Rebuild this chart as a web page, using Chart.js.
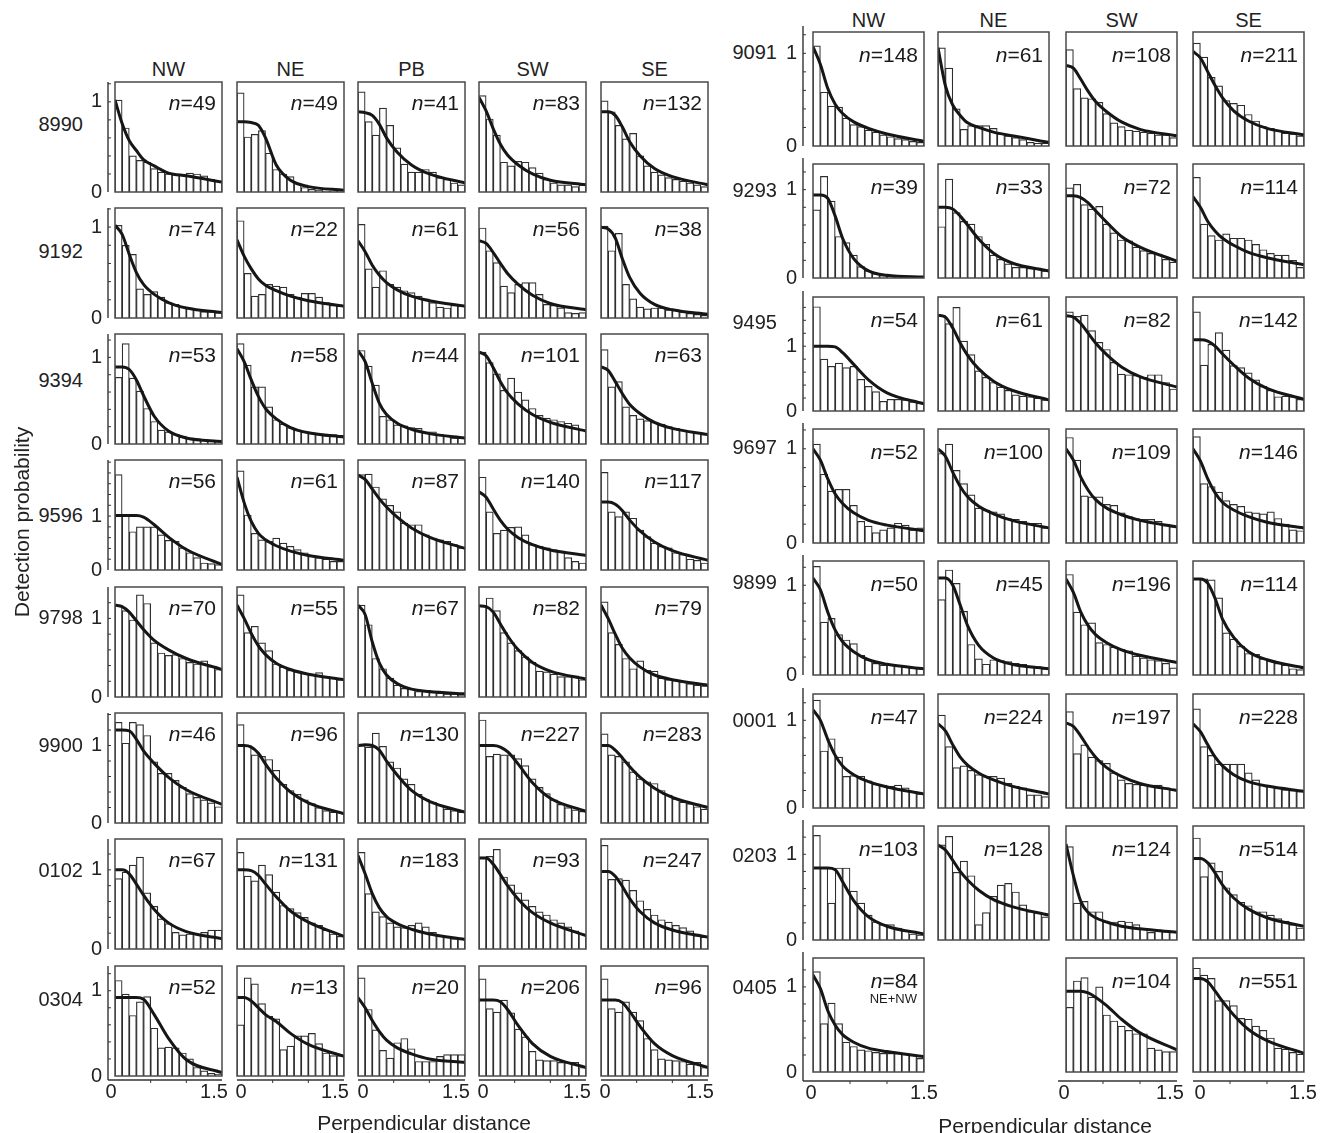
<!DOCTYPE html>
<html>
<head>
<meta charset="utf-8">
<script src="https://cdn.jsdelivr.net/npm/chart.js@4.4.1/dist/chart.umd.min.js"></script>
<style>
  body { margin: 0; background: #fff; }
  #page { position: relative; width: 1335px; height: 1133px; overflow: hidden;
          font-family: "Liberation Sans", Arial, sans-serif; color: #222; }
  #page canvas { position: absolute; }
  .lbl { position: absolute; white-space: nowrap; line-height: 1; font-size: 20px; }
</style>
</head>
<body>
<div id="page"></div>
<script>
// histogram bins (centres, km) and distances where the fitted curve was read
const binCentres = [0.05, 0.15, 0.25, 0.35, 0.45, 0.55, 0.65, 0.75, 0.85, 0.95, 1.05, 1.15, 1.25, 1.35, 1.45];
const fitDistances = [0, 0.1, 0.2, 0.3, 0.4, 0.55, 0.75, 1.0, 1.5];
const xTickValues = [0, 1.5];
const xTickLabels = ['0', '1.5'];
const xMinorTicks = [0.5, 1.0];
const yTickValues = [0, 1];
const yTickLabels = ['0', '1'];
const yMinorTicks = [0.2, 0.4, 0.6, 0.8, 1.0, 1.2, 1.4, 1.6, 1.8, 2.0];

const leftSites = ['NW', 'NE', 'PB', 'SW', 'SE'];
const leftSeasons = ['8990', '9192', '9394', '9596', '9798', '9900', '0102', '0304'];
const leftYMax = [1.22, 1.21, 1.27, 2.04, 1.40, 1.42, 1.39, 1.29];

const rightSites = ['NW', 'NE', 'SW', 'SE'];
const rightSeasons = ['9091', '9293', '9495', '9697', '9899', '0001', '0203', '0405'];
const rightYMax = [1.23, 1.29, 1.76, 1.21, 1.27, 1.30, 1.33, 1.34];

// ---- left block: NW, NE, PB, SW, SE ----
const counts8990 = [49, 49, 41, 83, 132];
const hist8990 = [
  [1.02,0.71,0.40,0.35,0.33,0.26,0.22,0.20,0.20,0.20,0.21,0.20,0.18,0.14,0.12],
  [1.10,0.61,0.64,0.68,0.43,0.25,0.20,0.17,0.10,0.05,0.03,0.02,0.01,0.01,0.01],
  [1.11,0.78,0.63,0.93,0.74,0.49,0.31,0.22,0.22,0.25,0.22,0.16,0.14,0.10,0.08],
  [1.07,0.81,0.63,0.33,0.29,0.34,0.33,0.27,0.21,0.14,0.10,0.08,0.08,0.06,0.08],
  [1.01,0.89,0.74,0.59,0.65,0.40,0.29,0.22,0.19,0.16,0.14,0.12,0.10,0.08,0.06]];
const fit8990 = [
  [1.02,0.76,0.57,0.46,0.36,0.29,0.21,0.18,0.11],
  [0.78,0.78,0.77,0.74,0.60,0.30,0.13,0.06,0.02],
  [0.89,0.88,0.85,0.75,0.60,0.44,0.30,0.20,0.10],
  [1.05,0.90,0.70,0.53,0.41,0.30,0.20,0.13,0.08],
  [0.89,0.89,0.85,0.72,0.56,0.40,0.26,0.17,0.08]];

const counts9192 = [74, 22, 61, 56, 38];
const hist9192 = [
  [1.02,0.80,0.70,0.32,0.26,0.29,0.23,0.17,0.15,0.12,0.11,0.09,0.07,0.07,0.06],
  [1.07,0.49,0.24,0.26,0.37,0.35,0.34,0.26,0.23,0.27,0.27,0.23,0.17,0.14,0.13],
  [1.03,0.54,0.34,0.52,0.37,0.34,0.30,0.28,0.24,0.21,0.17,0.12,0.11,0.14,0.14],
  [0.99,0.74,0.61,0.35,0.28,0.37,0.39,0.39,0.26,0.15,0.14,0.11,0.06,0.05,0.06],
  [1.01,0.74,0.93,0.37,0.21,0.12,0.10,0.11,0.11,0.09,0.09,0.07,0.05,0.04,0.03]];
const fit9192 = [
  [1.02,0.92,0.70,0.50,0.37,0.26,0.17,0.11,0.06],
  [0.86,0.68,0.54,0.43,0.36,0.30,0.24,0.19,0.13],
  [0.85,0.73,0.58,0.47,0.39,0.31,0.24,0.19,0.13],
  [0.85,0.82,0.72,0.60,0.49,0.37,0.25,0.16,0.09],
  [1.00,0.98,0.88,0.65,0.45,0.27,0.15,0.09,0.04]];

const counts9394 = [53, 58, 44, 101, 63];
const hist9394 = [
  [0.77,1.16,0.76,0.61,0.41,0.26,0.16,0.14,0.11,0.09,0.07,0.06,0.05,0.04,0.03],
  [1.16,0.91,0.66,0.66,0.43,0.28,0.23,0.19,0.16,0.14,0.13,0.11,0.11,0.11,0.10],
  [1.08,0.90,0.68,0.32,0.28,0.22,0.21,0.19,0.18,0.14,0.14,0.11,0.09,0.07,0.07],
  [1.06,0.94,0.81,0.62,0.76,0.60,0.51,0.41,0.33,0.30,0.28,0.26,0.24,0.22,0.16],
  [1.09,0.66,0.72,0.43,0.33,0.29,0.27,0.25,0.23,0.20,0.18,0.16,0.15,0.13,0.11]];
const fit9394 = [
  [0.89,0.89,0.86,0.74,0.56,0.32,0.15,0.07,0.03],
  [1.10,0.95,0.74,0.55,0.41,0.29,0.19,0.13,0.08],
  [1.08,0.95,0.70,0.47,0.34,0.24,0.17,0.12,0.07],
  [1.06,1.02,0.88,0.72,0.59,0.46,0.34,0.25,0.15],
  [0.89,0.85,0.72,0.58,0.46,0.35,0.25,0.18,0.11]];

const counts9596 = [56, 61, 87, 140, 117];
const hist9596 = [
  [1.77,1.02,0.71,0.80,0.80,0.80,0.65,0.55,0.53,0.41,0.32,0.23,0.13,0.12,0.10],
  [1.84,1.02,0.68,0.56,0.53,0.59,0.50,0.44,0.38,0.32,0.27,0.23,0.20,0.16,0.16],
  [1.77,1.78,1.54,1.32,1.20,1.08,0.87,0.84,0.84,0.65,0.59,0.56,0.53,0.47,0.41],
  [1.72,1.08,0.68,0.74,0.79,0.80,0.65,0.47,0.44,0.41,0.38,0.35,0.23,0.16,0.13],
  [1.81,1.08,0.99,1.08,0.96,0.74,0.62,0.50,0.44,0.41,0.32,0.29,0.20,0.18,0.13]];
const fit9596 = [
  [1.01,1.01,1.01,1.01,0.98,0.84,0.61,0.38,0.10],
  [1.72,1.25,0.90,0.68,0.56,0.45,0.35,0.27,0.18],
  [1.76,1.68,1.50,1.32,1.17,0.98,0.78,0.61,0.40],
  [1.45,1.35,1.13,0.92,0.76,0.60,0.47,0.37,0.27],
  [1.26,1.26,1.22,1.10,0.93,0.72,0.52,0.36,0.18]];

const counts9798 = [70, 55, 67, 82, 79];
const hist9798 = [
  [1.17,1.10,0.98,1.30,1.19,0.69,0.56,0.53,0.54,0.49,0.44,0.42,0.46,0.39,0.35],
  [1.30,0.82,0.90,0.69,0.59,0.42,0.38,0.34,0.32,0.30,0.29,0.31,0.26,0.24,0.22],
  [1.17,0.92,0.49,0.36,0.24,0.15,0.11,0.10,0.07,0.07,0.06,0.05,0.04,0.04,0.03],
  [1.16,1.26,1.10,0.82,0.69,0.59,0.51,0.44,0.33,0.32,0.29,0.26,0.26,0.27,0.22],
  [1.21,0.82,0.67,0.49,0.36,0.46,0.34,0.33,0.24,0.22,0.21,0.20,0.17,0.15,0.14]];
const fit9798 = [
  [1.17,1.15,1.08,0.97,0.86,0.72,0.60,0.49,0.35],
  [1.17,1.00,0.81,0.65,0.54,0.43,0.35,0.29,0.22],
  [1.17,1.05,0.70,0.43,0.28,0.17,0.10,0.07,0.04],
  [1.16,1.15,1.08,0.93,0.78,0.60,0.44,0.33,0.23],
  [1.17,1.00,0.80,0.62,0.50,0.38,0.28,0.22,0.15]];

const counts9900 = [46, 96, 130, 227, 283];
const hist9900 = [
  [1.30,1.03,1.30,1.27,1.13,0.79,0.64,0.64,0.55,0.46,0.38,0.33,0.30,0.26,0.21],
  [1.27,1.00,0.88,0.86,0.82,0.68,0.50,0.42,0.37,0.30,0.25,0.20,0.16,0.14,0.14],
  [1.00,0.98,1.16,0.99,0.79,0.71,0.57,0.50,0.37,0.31,0.27,0.23,0.18,0.16,0.14],
  [1.33,0.86,0.89,0.88,0.88,0.83,0.74,0.57,0.46,0.38,0.30,0.24,0.20,0.17,0.15],
  [1.15,0.88,0.86,0.79,0.66,0.57,0.53,0.51,0.42,0.36,0.31,0.27,0.25,0.21,0.18]];
const fit9900 = [
  [1.20,1.20,1.19,1.08,0.93,0.77,0.59,0.43,0.24],
  [1.00,1.00,0.98,0.90,0.76,0.58,0.40,0.26,0.12],
  [1.00,1.01,1.00,0.94,0.80,0.62,0.42,0.28,0.14],
  [1.00,1.00,1.00,0.98,0.92,0.76,0.52,0.32,0.15],
  [1.00,1.00,0.94,0.84,0.73,0.59,0.45,0.33,0.20]];

const counts0102 = [67, 131, 183, 93, 247];
const hist0102 = [
  [0.89,0.97,1.06,1.16,0.71,0.54,0.38,0.32,0.21,0.18,0.19,0.19,0.21,0.24,0.24],
  [1.22,0.92,0.86,1.06,0.94,0.72,0.55,0.51,0.46,0.40,0.33,0.30,0.24,0.19,0.16],
  [1.22,0.70,0.47,0.41,0.33,0.28,0.27,0.30,0.33,0.28,0.21,0.17,0.16,0.13,0.13],
  [1.16,1.17,1.26,0.91,0.81,0.71,0.62,0.54,0.47,0.43,0.37,0.33,0.28,0.23,0.19],
  [1.31,0.88,0.89,0.87,0.74,0.61,0.50,0.43,0.37,0.34,0.30,0.27,0.23,0.17,0.15]];
const fit0102 = [
  [1.00,1.00,0.95,0.82,0.68,0.50,0.33,0.22,0.13],
  [1.00,1.00,0.99,0.93,0.82,0.66,0.48,0.34,0.16],
  [1.18,0.95,0.70,0.52,0.41,0.32,0.25,0.19,0.12],
  [1.15,1.15,1.07,0.94,0.80,0.63,0.46,0.33,0.17],
  [0.98,0.98,0.92,0.79,0.64,0.47,0.33,0.24,0.15]];

const counts0304 = [52, 13, 20, 206, 96];
const hist0304 = [
  [1.12,0.96,0.71,0.87,0.93,0.56,0.33,0.34,0.33,0.27,0.20,0.10,0.06,0.03,0.02],
  [0.60,1.15,1.08,0.85,0.70,0.67,0.31,0.35,0.47,0.47,0.50,0.38,0.27,0.24,0.24],
  [1.15,0.78,0.54,0.30,0.21,0.39,0.44,0.32,0.17,0.17,0.17,0.23,0.25,0.25,0.25],
  [1.14,0.79,0.75,0.89,0.74,0.55,0.46,0.29,0.19,0.18,0.18,0.16,0.16,0.16,0.10],
  [1.14,0.79,0.75,0.87,0.75,0.65,0.44,0.31,0.20,0.19,0.18,0.17,0.14,0.16,0.10]];
const fit0304 = [
  [0.92,0.92,0.92,0.92,0.90,0.72,0.44,0.19,0.04],
  [0.92,0.92,0.88,0.80,0.72,0.64,0.50,0.37,0.23],
  [0.92,0.80,0.65,0.52,0.42,0.33,0.26,0.20,0.16],
  [0.89,0.89,0.89,0.87,0.78,0.59,0.38,0.23,0.10],
  [0.89,0.89,0.89,0.86,0.76,0.58,0.38,0.24,0.10]];

// ---- right block: NW, NE, SW, SE ----
const counts9091 = [148, 61, 108, 211];
const hist9091 = [
  [1.08,0.58,0.43,0.42,0.30,0.23,0.21,0.17,0.15,0.12,0.10,0.08,0.07,0.05,0.04],
  [1.06,0.84,0.40,0.18,0.22,0.22,0.22,0.19,0.13,0.11,0.09,0.07,0.04,0.03,0.03],
  [1.04,0.62,0.52,0.51,0.47,0.35,0.25,0.21,0.17,0.16,0.15,0.14,0.12,0.12,0.09],
  [1.11,0.96,0.74,0.65,0.49,0.46,0.44,0.34,0.27,0.21,0.19,0.17,0.14,0.13,0.11]];
const fit9091 = [
  [1.07,0.88,0.62,0.45,0.35,0.26,0.19,0.13,0.05],
  [1.06,0.65,0.44,0.33,0.25,0.20,0.15,0.11,0.04],
  [0.87,0.84,0.72,0.59,0.48,0.37,0.26,0.18,0.11],
  [1.02,0.95,0.80,0.65,0.52,0.38,0.27,0.19,0.12]];

const counts9293 = [39, 33, 72, 114];
const hist9293 = [
  [0.77,1.15,0.87,0.47,0.40,0.26,0.13,0.08,0.05,0.03,0.02,0.02,0.01,0.01,0.01],
  [0.58,1.12,0.74,0.64,0.61,0.47,0.38,0.26,0.21,0.16,0.12,0.12,0.11,0.11,0.08],
  [1.02,1.06,0.83,0.78,0.81,0.61,0.51,0.43,0.42,0.35,0.31,0.28,0.27,0.21,0.18],
  [1.14,0.61,0.48,0.43,0.50,0.45,0.45,0.43,0.38,0.32,0.28,0.26,0.26,0.20,0.12]];
const fit9293 = [
  [0.94,0.94,0.90,0.70,0.45,0.22,0.08,0.03,0.01],
  [0.80,0.80,0.78,0.70,0.60,0.44,0.28,0.17,0.08],
  [0.93,0.93,0.91,0.85,0.76,0.63,0.47,0.35,0.19],
  [0.92,0.80,0.64,0.53,0.45,0.37,0.29,0.23,0.15]];

const counts9495 = [54, 61, 82, 142];
const hist9495 = [
  [1.61,0.80,0.69,0.74,0.67,0.69,0.49,0.38,0.30,0.15,0.18,0.18,0.17,0.14,0.12],
  [1.48,1.35,1.60,1.08,0.87,0.62,0.52,0.44,0.37,0.32,0.25,0.23,0.22,0.20,0.17],
  [1.53,1.46,1.48,1.24,1.06,0.95,0.75,0.57,0.56,0.55,0.52,0.56,0.56,0.44,0.34],
  [1.53,0.71,1.03,1.21,0.94,0.70,0.67,0.59,0.48,0.38,0.32,0.22,0.23,0.22,0.18]];
const fit9495 = [
  [1.00,1.00,1.00,0.99,0.90,0.72,0.48,0.28,0.11],
  [1.48,1.45,1.28,1.05,0.86,0.65,0.46,0.32,0.17],
  [1.47,1.45,1.35,1.20,1.05,0.87,0.68,0.53,0.37],
  [1.10,1.10,1.08,1.00,0.88,0.71,0.51,0.35,0.18]];

const counts9697 = [52, 100, 109, 146];
const hist9697 = [
  [1.05,0.73,0.55,0.57,0.57,0.40,0.23,0.18,0.11,0.14,0.16,0.21,0.19,0.14,0.16],
  [0.95,1.05,0.77,0.63,0.51,0.37,0.35,0.33,0.31,0.26,0.25,0.23,0.21,0.21,0.16],
  [1.12,0.88,0.50,0.49,0.49,0.41,0.40,0.32,0.28,0.26,0.25,0.25,0.23,0.20,0.18],
  [1.13,0.63,0.60,0.54,0.45,0.41,0.39,0.33,0.32,0.31,0.33,0.26,0.20,0.14,0.13]];
const fit9697 = [
  [1.00,0.88,0.68,0.52,0.42,0.32,0.24,0.19,0.13],
  [1.00,0.92,0.75,0.60,0.49,0.39,0.31,0.24,0.16],
  [1.00,0.88,0.70,0.56,0.46,0.37,0.30,0.24,0.17],
  [1.00,0.87,0.68,0.53,0.43,0.35,0.28,0.22,0.16]];

const counts9899 = [50, 45, 196, 114];
const hist9899 = [
  [1.21,0.59,0.63,0.45,0.39,0.35,0.22,0.17,0.13,0.11,0.11,0.10,0.09,0.08,0.07],
  [0.84,1.17,1.02,0.71,0.34,0.18,0.12,0.17,0.16,0.15,0.13,0.12,0.10,0.09,0.07],
  [1.12,0.70,0.56,0.58,0.36,0.34,0.31,0.29,0.27,0.21,0.19,0.17,0.16,0.13,0.08],
  [1.07,1.07,1.06,0.86,0.47,0.40,0.32,0.24,0.23,0.18,0.16,0.13,0.11,0.07,0.06]];
const fit9899 = [
  [1.08,0.95,0.70,0.50,0.37,0.26,0.17,0.12,0.07],
  [1.08,1.08,1.00,0.78,0.55,0.33,0.19,0.12,0.07],
  [1.07,0.92,0.70,0.55,0.45,0.36,0.28,0.22,0.14],
  [1.07,1.07,1.02,0.85,0.62,0.42,0.26,0.17,0.08]];

const counts0001 = [47, 224, 197, 228];
const hist0001 = [
  [1.23,0.65,0.79,0.58,0.36,0.37,0.36,0.31,0.27,0.26,0.25,0.26,0.23,0.19,0.16],
  [1.06,0.70,0.46,0.48,0.43,0.38,0.36,0.36,0.34,0.28,0.25,0.23,0.15,0.15,0.13],
  [1.10,0.62,0.72,0.58,0.54,0.51,0.40,0.32,0.28,0.27,0.26,0.26,0.26,0.23,0.21],
  [1.13,0.70,0.60,0.50,0.50,0.50,0.50,0.40,0.32,0.26,0.25,0.23,0.21,0.20,0.19]];
const fit0001 = [
  [1.12,1.00,0.78,0.60,0.48,0.38,0.30,0.24,0.16],
  [0.96,0.88,0.72,0.58,0.49,0.40,0.32,0.25,0.16],
  [0.97,0.93,0.82,0.69,0.58,0.46,0.36,0.28,0.20],
  [0.96,0.87,0.72,0.58,0.48,0.38,0.30,0.25,0.19]];

const counts0203 = [103, 128, 124, 514];
const hist0203 = [
  [1.22,0.84,0.43,0.84,0.84,0.57,0.43,0.29,0.21,0.18,0.18,0.14,0.11,0.07,0.06],
  [1.11,1.21,0.79,0.92,0.75,0.18,0.32,0.51,0.64,0.66,0.56,0.41,0.33,0.32,0.27],
  [1.09,0.43,0.45,0.33,0.33,0.21,0.21,0.22,0.21,0.18,0.13,0.09,0.12,0.10,0.10],
  [1.19,0.74,0.90,0.80,0.61,0.53,0.44,0.40,0.33,0.33,0.29,0.25,0.22,0.18,0.14]];
const fit0203 = [
  [0.84,0.84,0.84,0.82,0.68,0.46,0.27,0.16,0.07],
  [1.11,1.05,0.93,0.80,0.70,0.58,0.47,0.39,0.29],
  [1.12,0.75,0.45,0.32,0.26,0.21,0.16,0.13,0.09],
  [0.95,0.95,0.90,0.78,0.64,0.49,0.36,0.26,0.16]];

// no separate NE panel in 0405: NE and NW were pooled
const counts0405 = [84, null, 104, 551];
const hist0405 = [
  [1.18,0.57,0.81,0.57,0.35,0.30,0.26,0.25,0.23,0.22,0.22,0.22,0.22,0.20,0.16],
  null,
  [0.76,1.07,1.11,0.88,1.00,0.67,0.60,0.54,0.49,0.45,0.45,0.28,0.26,0.24,0.24],
  [1.22,1.14,1.10,0.84,0.84,0.78,0.63,0.62,0.54,0.49,0.40,0.28,0.27,0.23,0.21]];
const fit0405 = [
  [1.14,0.98,0.72,0.55,0.44,0.35,0.28,0.24,0.18],
  null,
  [0.95,0.95,0.95,0.93,0.88,0.78,0.62,0.46,0.26],
  [1.10,1.10,1.06,0.95,0.83,0.67,0.50,0.37,0.22]];
const notes0405 = ['NE+NW', '', '', ''];

// ---- layout ----
const leftColX = [115, 237, 358, 479, 601];
const leftRowY = [82, 208, 334, 460, 587, 713, 839, 966];
const leftSize = { w: 107, h: 110 };
const leftRowLabelY = [124, 251, 380, 515, 617, 745, 870, 999];
const leftXShift = [[-4, -8], [4, -9], [5, -9], [4, -9], [4, -8]];

const rightColX = [813, 938, 1066, 1193];
const rightRowY = [32, 164, 297, 429, 561, 694, 826, 958];
const rightSize = { w: 111, h: 114 };
const rightRowLabelY = [52, 190, 322, 447, 582, 720, 855, 987];
const rightXShift = [[-2, 0], [0, 0], [-2, -7], [7, -1]];

const PAD = { l: 52, r: 26, t: 6, b: 36 };
const FONT = '"Liberation Sans", Arial, sans-serif';

Chart.defaults.font.family = FONT;

const leftRows = [
  [counts8990, hist8990, fit8990], [counts9192, hist9192, fit9192],
  [counts9394, hist9394, fit9394], [counts9596, hist9596, fit9596],
  [counts9798, hist9798, fit9798], [counts9900, hist9900, fit9900],
  [counts0102, hist0102, fit0102], [counts0304, hist0304, fit0304]];
const rightRows = [
  [counts9091, hist9091, fit9091], [counts9293, hist9293, fit9293],
  [counts9495, hist9495, fit9495], [counts9697, hist9697, fit9697],
  [counts9899, hist9899, fit9899], [counts0001, hist0001, fit0001],
  [counts0203, hist0203, fit0203], [counts0405, hist0405, fit0405]];

const page = document.getElementById('page');

function addLabel(text, cx, cy, opts = {}) {
  const d = document.createElement('div');
  d.className = 'lbl';
  d.textContent = text;
  d.style.left = cx + 'px';
  d.style.top = cy + 'px';
  if (opts.size) d.style.fontSize = opts.size + 'px';
  const ax = opts.align === 'right' ? '-100%' : '-50%';
  d.style.transform = `translate(${ax}, -50%)` + (opts.rotate ? ` rotate(${opts.rotate}deg)` : '');
  page.appendChild(d);
}

// frame, n label and the shared axes of the outer panels
const panelDecor = {
  id: 'panelDecor',
  afterDatasetsDraw(chart, args, o) {
    const { ctx, chartArea: a, scales: { x, y } } = chart;
    ctx.save();
    ctx.strokeStyle = '#4a4a4a';
    ctx.lineWidth = 1.5;
    ctx.strokeRect(a.left, a.top, a.right - a.left, a.bottom - a.top);

    // n = ...
    ctx.fillStyle = '#1a1a1a';
    ctx.textBaseline = 'alphabetic';
    ctx.textAlign = 'left';
    const rest = '=' + o.n;
    ctx.font = `21px ${FONT}`;
    const wRest = ctx.measureText(rest).width;
    ctx.font = `italic 21px ${FONT}`;
    const wN = ctx.measureText('n').width;
    const x0 = a.right - 6 - wRest - wN;
    const base = a.top + o.nBase;
    ctx.fillText('n', x0, base);
    ctx.font = `21px ${FONT}`;
    ctx.fillText(rest, x0 + wN, base);
    if (o.note) {
      ctx.font = `13px ${FONT}`;
      ctx.textAlign = 'right';
      ctx.fillText(o.note, a.right - 7, base + 15);
    }

    ctx.strokeStyle = '#333';
    ctx.lineWidth = 1.4;
    ctx.fillStyle = '#222';
    ctx.font = `20px ${FONT}`;
    const yLineX = a.left - o.yGap;
    const xLineY = a.bottom + o.xGap;
    if (o.yAxis) {
      ctx.beginPath();
      ctx.moveTo(yLineX, a.top - o.yExt);
      ctx.lineTo(yLineX, o.xAxis ? xLineY : a.bottom);
      ctx.stroke();
      ctx.lineWidth = 1;
      yMinorTicks.filter(v => v < y.max).forEach(v => {
        const py = y.getPixelForValue(v);
        ctx.beginPath();
        ctx.moveTo(yLineX, py);
        ctx.lineTo(yLineX + 3, py);
        ctx.stroke();
      });
      ctx.textAlign = 'right';
      ctx.textBaseline = 'middle';
      yTickValues.forEach((v, i) => ctx.fillText(yTickLabels[i], yLineX - 6, y.getPixelForValue(v)));
    }
    if (o.xAxis) {
      ctx.lineWidth = 1.4;
      ctx.beginPath();
      ctx.moveTo(o.yAxis ? yLineX : a.left - o.xLead, xLineY);
      ctx.lineTo(a.right, xLineY);
      ctx.stroke();
      ctx.lineWidth = 1;
      xMinorTicks.forEach(v => {
        const px = x.getPixelForValue(v);
        ctx.beginPath();
        ctx.moveTo(px, xLineY);
        ctx.lineTo(px, xLineY + 3);
        ctx.stroke();
      });
      ctx.textAlign = 'center';
      ctx.textBaseline = 'middle';
      xTickValues.forEach((v, i) => ctx.fillText(xTickLabels[i], x.getPixelForValue(v) + o.xShift[i], xLineY + 12));
    }
    ctx.restore();
  }
};

function drawPanel(left, top, size, yMax, bins, fit, deco) {
  const cv = document.createElement('canvas');
  const W = size.w + PAD.l + PAD.r;
  const H = size.h + PAD.t + PAD.b;
  cv.width = W;
  cv.height = H;
  cv.style.width = W + 'px';
  cv.style.height = H + 'px';
  cv.style.left = (left - PAD.l) + 'px';
  cv.style.top = (top - PAD.t) + 'px';
  page.appendChild(cv);

  new Chart(cv, {
    type: 'bar',
    data: {
      datasets: [
        {
          type: 'line',
          data: fitDistances.map((d, i) => ({ x: d, y: fit[i] })),
          borderColor: '#161616',
          borderWidth: 3,
          pointRadius: 0,
          cubicInterpolationMode: 'monotone',
          fill: false,
          order: 0
        },
        {
          type: 'bar',
          data: binCentres.map((d, i) => ({ x: d, y: bins[i] })),
          backgroundColor: '#ffffff',
          borderColor: '#2e2e2e',
          borderWidth: 1.2,
          barPercentage: 1,
          categoryPercentage: 1,
          order: 1
        }
      ]
    },
    options: {
      responsive: false,
      animation: false,
      devicePixelRatio: 1,
      events: [],
      layout: { padding: { left: PAD.l, right: PAD.r, top: PAD.t, bottom: PAD.b } },
      scales: {
        x: { type: 'linear', min: 0, max: 1.5, offset: false, display: false },
        y: { min: 0, max: yMax, display: false }
      },
      plugins: { legend: { display: false }, tooltip: { enabled: false }, panelDecor: deco }
    },
    plugins: [panelDecor]
  });
}

// left block
leftSites.forEach((s, c) => addLabel(s, leftColX[c] + leftSize.w / 2, 69));
leftSeasons.forEach((season, r) => {
  addLabel(season, 83, leftRowLabelY[r], { align: 'right' });
  const [counts, hist, fit] = leftRows[r];
  leftSites.forEach((s, c) => {
    drawPanel(leftColX[c], leftRowY[r], leftSize, leftYMax[r], hist[c], fit[c], {
      n: counts[c], note: '', nBase: 28,
      yAxis: c === 0, yGap: 7, yExt: 0,
      xAxis: r === leftSeasons.length - 1, xGap: 4, xLead: 0, xShift: leftXShift[c]
    });
  });
});

// right block
rightSites.forEach((s, c) => addLabel(s, rightColX[c] + rightSize.w / 2, 20));
rightSeasons.forEach((season, r) => {
  addLabel(season, 777, rightRowLabelY[r], { align: 'right' });
  const [counts, hist, fit] = rightRows[r];
  rightSites.forEach((s, c) => {
    if (!hist[c]) return;
    const last = r === rightSeasons.length - 1;
    drawPanel(rightColX[c], rightRowY[r], rightSize, rightYMax[r], hist[c], fit[c], {
      n: counts[c], note: last ? notes0405[c] : '', nBase: 30,
      yAxis: c === 0, yGap: 10, yExt: 6,
      xAxis: last, xGap: 9, xLead: c === 2 ? 8 : 0, xShift: rightXShift[c]
    });
  });
});

// axis titles
addLabel('Detection probability', 21, 522, { rotate: -90, size: 21 });
addLabel('Perpendicular distance', 424, 1122, { size: 21 });
addLabel('Perpendicular distance', 1045, 1125, { size: 21 });
</script>
</body>
</html>
